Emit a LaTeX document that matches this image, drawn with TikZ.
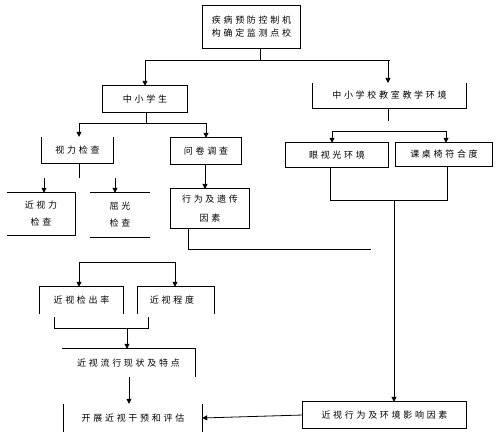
\documentclass[tikz,border=0pt]{standalone}
\usepackage{fontspec}
\newfontfamily\cjkfont{Noto Sans CJK SC}[LetterSpace=30]
\usetikzlibrary{arrows.meta}
\begin{document}
\begin{tikzpicture}[x=1pt,y=-1pt,
  lbl/.style={inner sep=0pt,align=center,font=\cjkfont\fontsize{9}{17}\selectfont},
  ln/.style={line width=0.8pt,black},
  arr/.style={ln,-{Triangle[length=5pt,width=5pt]}},
  box/.style={ln}]
\useasboundingbox[fill=white] (0,0) rectangle (500,438);

% ---- nodes (text) ----
\node[lbl,font=\cjkfont\fontsize{9}{13}\selectfont,minimum width=97pt,minimum height=42pt] (top) at (251.5,27) {疾病预防控制机\\构确定监测点校};
\node[lbl,minimum width=84pt,minimum height=26pt] (stu) at (145,99) {中小学生};
\node[lbl,minimum width=153pt,minimum height=25pt] (env) at (389.5,95.5) {中小学校教室教学环境};
\node[lbl,minimum width=71pt,minimum height=26pt] (vis) at (77.5,150) {视力检查};
\node[lbl,minimum width=70pt,minimum height=26pt] (que) at (206,151) {问卷调查};
\node[lbl,minimum width=68pt,minimum height=42pt] (near) at (41,214) {近视力\\检查};
\node[lbl,minimum width=60pt,minimum height=44pt] (ref) at (120,215) {屈光\\检查};
\node[lbl,font=\cjkfont\fontsize{9}{19}\selectfont,minimum width=78pt,minimum height=39pt] (beh) at (210,208.5) {行为及遗传\\因素};
\node[lbl,minimum width=102pt,minimum height=24pt] (light) at (337,155) {眼视光环境};
\node[lbl,minimum width=96pt,minimum height=23pt] (desk) at (444,154.5) {课桌椅符合度};
\node[lbl,minimum width=83pt,minimum height=27pt] (rate) at (81.5,300.5) {近视检出率};
\node[lbl,minimum width=76pt,minimum height=27pt] (deg) at (176,300.5) {\hspace*{-8pt}近视程度};
\node[lbl,minimum width=133pt,minimum height=28pt] (prev) at (128.5,363) {近视流行现状及特点};
\node[lbl,minimum width=138pt,minimum height=28pt] (interv) at (133,418) {开展近视干预和评估};
\node[lbl,minimum width=163pt,minimum height=26pt] (factor) at (384.5,415) {近视行为及环境影响因素};

% ---- box outlines (partly open as in the reference) ----
\draw[box] (top.north west) rectangle (top.south east);
\draw[box] (stu.north west) rectangle (stu.south east);
\draw[box] (env.north west) -- (env.south west) -- (env.south east) -- (env.north east);
\draw[box] (vis.north west) -- (vis.south west) -- (vis.south east) -- (vis.north east);
\draw[box] (que.north west) rectangle (que.south east);
\draw[box] (near.north west) -- (near.north east) -- (near.south east) -- (near.south west);
\draw[box] (ref.north west) -- (ref.north east);
\draw[box] (ref.south west) -- (ref.south east);
\draw[box] (beh.north west) rectangle (beh.south east);
\draw[box] (light.north west) rectangle (light.south east);
\draw[box] (desk.north west) rectangle (desk.south east);
\draw[box] (rate.south west) -- (rate.north west) -- (rate.north east) -- (rate.south east);
\draw[box] (deg.south west) -- (deg.north west) -- (deg.north east) -- (deg.south east);
\draw[box] (prev.north west) -- (prev.north east) -- (prev.south east);
\draw[box] (interv.north west) -- (interv.south west);
\draw[box] (interv.north east) -- (interv.south east);
\draw[box] (factor.north west) rectangle (factor.south east);

% ---- junction coordinates ----
\coordinate (j1) at (260,60);
\coordinate (j2) at (146,123);
\coordinate (j3) at (388,121);
\coordinate (j4) at (332,131);
\coordinate (j5) at (446,131);
\coordinate (j6) at (79,178);
\coordinate (j7) at (44,178);
\coordinate (j8) at (115,178);
\coordinate (j9) at (371,249);
\coordinate (j10) at (330,200);
\coordinate (j11) at (447,200);
\coordinate (j12) at (79,262);
\coordinate (j13) at (175,262);
\coordinate (j14) at (54,317);
\coordinate (j15) at (148,317);
\coordinate (j16) at (127,328);

% ---- connectors ----
\draw[ln] (top.south -| j1) -- (j1);
\draw[ln] (stu.north |- j1) -- (env.north |- j1);
\draw[arr] (stu.north |- j1) -- (stu.north);
\draw[arr] (388,60) -- (388,83);

\draw[ln] (stu.south -| j2) -- (j2);
\draw[ln] (79,123) -- (206,123);
\draw[arr] (79,123) -- (vis.north -| 79,0);
\draw[arr] (que.north |- j2) -- (que.north);

\draw[ln] (env.south -| j3) -- (j3);
\draw[ln] (j4) -- (j5);
\draw[arr] (j4) -- (light.north -| j4);
\draw[arr] (j5) -- (desk.north -| j5);

\draw[ln] (vis.south -| j6) -- (j6);
\draw[arr] (j7) -- (near.north -| j7);
\draw[arr] (j8) -- (ref.north -| j8);

\draw[arr] (205,164) -- (205,189);
\draw[ln] (188,228) -- (188,249) -- (j9);

\draw[ln] (light.south -| j10) -- (j10) -- (j11) -- (desk.south -| j11);
\draw[arr] (394,200) -- (factor.north -| 394,0);
\draw[arr] (factor.west) -- (interv.east);

\draw[ln] (j12) -- (j13);
\draw[arr] (j12) -- (rate.north -| j12);
\draw[arr] (j13) -- (deg.north -| j13);
\draw[ln] (j14) -- (j14 |- j16) -- (j15 |- j16) -- (j15);
\draw[arr] (j16) -- (prev.north -| j16);
\draw[arr] (prev.south -| 129,0) -- (interv.north -| 129,0);
\end{tikzpicture}
\end{document}
